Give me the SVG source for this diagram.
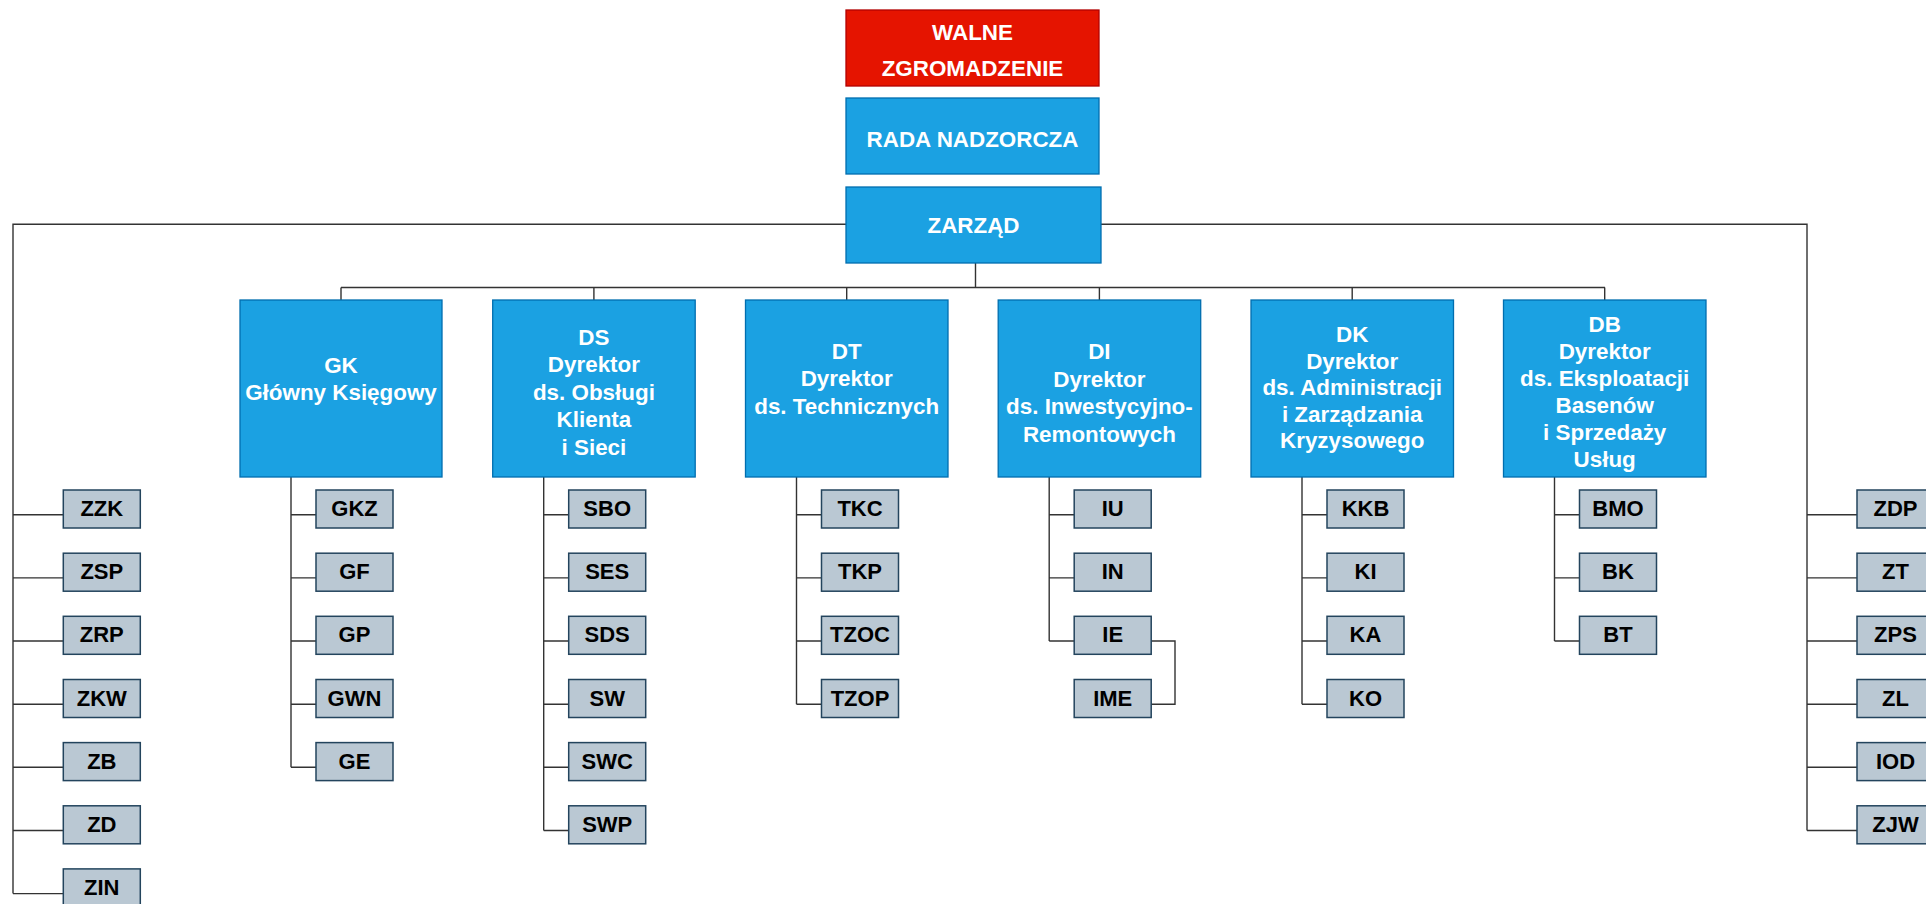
<svg xmlns="http://www.w3.org/2000/svg" width="1926" height="904" viewBox="0 0 1926 904">
<style>
.red{fill:#e51400;stroke:#b20000;stroke-width:1.3}
.blue{fill:#1ba1e2;stroke:#006eaf;stroke-width:1.3}
.sub{fill:#bac8d3;stroke:#23445d;stroke-width:1.5}
.wt{font-family:"Liberation Sans",Arial,sans-serif;font-weight:bold;font-size:22.4px;fill:#ffffff;text-anchor:middle}
.bt{font-family:"Liberation Sans",Arial,sans-serif;font-weight:bold;font-size:22px;fill:#000000;text-anchor:middle}
.ln{fill:none;stroke:#333333;stroke-width:1.4}
</style>
<rect width="1926" height="904" fill="#ffffff"/>
<g id="connectors" class="ln">
<path d="M846,224.3 H13 V893.6"/>
<path d="M13,514.7 H63.3 M13,577.9 H63.3 M13,641 H63.3 M13,704.2 H63.3 M13,767.3 H63.3 M13,830.5 H63.3 M13,893.6 H63.3"/>
<path d="M1101,224.3 H1807 V830.5"/>
<path d="M1807,514.7 H1857 M1807,577.9 H1857 M1807,641 H1857 M1807,704.2 H1857 M1807,767.3 H1857 M1807,830.5 H1857"/>
<path d="M975.5,263 V287.5 M341,287.5 H1605 M341,287.5 V300 M593.9,287.5 V300 M846.7,287.5 V300 M1099.4,287.5 V300 M1352.2,287.5 V300 M1604.7,287.5 V300"/>
<path d="M291,477 V767.3 M291,514.7 H316 M291,577.9 H316 M291,641 H316 M291,704.2 H316 M291,767.3 H316"/>
<path d="M543.7,477 V830.5 M543.7,514.7 H568.7 M543.7,577.9 H568.7 M543.7,641 H568.7 M543.7,704.2 H568.7 M543.7,767.3 H568.7 M543.7,830.5 H568.7"/>
<path d="M796.5,477 V704.2 M796.5,514.7 H821.5 M796.5,577.9 H821.5 M796.5,641 H821.5 M796.5,704.2 H821.5"/>
<path d="M1049.2,477 V641 M1049.2,514.7 H1074.2 M1049.2,577.9 H1074.2 M1049.2,641 H1074.2"/>
<path d="M1151.2,641 H1175 V704.2 H1151.2"/>
<path d="M1302,477 V704.2 M1302,514.7 H1327 M1302,577.9 H1327 M1302,641 H1327 M1302,704.2 H1327"/>
<path d="M1554.5,477 V641 M1554.5,514.7 H1579.5 M1554.5,577.9 H1579.5 M1554.5,641 H1579.5"/>
</g>
<g id="walne"><rect class="red" x="846" y="10" width="253" height="76"/><text class="wt" x="972.5" y="40">WALNE</text><text class="wt" x="972.5" y="75.7">ZGROMADZENIE</text></g>
<g id="rada"><rect class="blue" x="846" y="98" width="253" height="76"/><text class="wt" x="972.5" y="146.5">RADA NADZORCZA</text></g>
<g id="zarzad"><rect class="blue" x="846" y="187" width="255" height="76"/><text class="wt" x="973.5" y="233">ZARZĄD</text></g>
<g id="gk"><rect class="blue" x="240" y="300" width="202" height="177"/><text class="wt" x="341" y="372.7">GK</text><text class="wt" x="341" y="400">Główny Księgowy</text></g>
<g id="ds"><rect class="blue" x="492.7" y="300" width="202.5" height="177"/><text class="wt" x="593.9" y="344.5">DS</text><text class="wt" x="593.9" y="372">Dyrektor</text><text class="wt" x="593.9" y="399.5">ds. Obsługi</text><text class="wt" x="593.9" y="427">Klienta</text><text class="wt" x="593.9" y="454.5">i Sieci</text></g>
<g id="dt"><rect class="blue" x="745.5" y="300" width="202.5" height="177"/><text class="wt" x="846.7" y="358.5">DT</text><text class="wt" x="846.7" y="386">Dyrektor</text><text class="wt" x="846.7" y="413.5">ds. Technicznych</text></g>
<g id="di"><rect class="blue" x="998.2" y="300" width="202.5" height="177"/><text class="wt" x="1099.4" y="359">DI</text><text class="wt" x="1099.4" y="386.5">Dyrektor</text><text class="wt" x="1099.4" y="414">ds. Inwestycyjno-</text><text class="wt" x="1099.4" y="441.5">Remontowych</text></g>
<g id="dk"><rect class="blue" x="1251" y="300" width="202.5" height="177"/><text class="wt" x="1352.2" y="342">DK</text><text class="wt" x="1352.2" y="368.5">Dyrektor</text><text class="wt" x="1352.2" y="395">ds. Administracji</text><text class="wt" x="1352.2" y="421.5">i Zarządzania</text><text class="wt" x="1352.2" y="448">Kryzysowego</text></g>
<g id="db"><rect class="blue" x="1503.5" y="300" width="202.5" height="177"/><text class="wt" x="1604.7" y="331.7">DB</text><text class="wt" x="1604.7" y="358.8">Dyrektor</text><text class="wt" x="1604.7" y="385.9">ds. Eksploatacji</text><text class="wt" x="1604.7" y="413">Basenów</text><text class="wt" x="1604.7" y="440.1">i Sprzedaży</text><text class="wt" x="1604.7" y="467.2">Usług</text></g>
<g id="zzk"><rect class="sub" x="63.3" y="490" width="77" height="38"/><text class="bt" x="101.8" y="516">ZZK</text></g>
<g id="zsp"><rect class="sub" x="63.3" y="553.2" width="77" height="38"/><text class="bt" x="101.8" y="579.2">ZSP</text></g>
<g id="zrp"><rect class="sub" x="63.3" y="616.3" width="77" height="38"/><text class="bt" x="101.8" y="642.3">ZRP</text></g>
<g id="zkw"><rect class="sub" x="63.3" y="679.5" width="77" height="38"/><text class="bt" x="101.8" y="705.5">ZKW</text></g>
<g id="zb"><rect class="sub" x="63.3" y="742.6" width="77" height="38"/><text class="bt" x="101.8" y="768.6">ZB</text></g>
<g id="zd"><rect class="sub" x="63.3" y="805.8" width="77" height="38"/><text class="bt" x="101.8" y="831.8">ZD</text></g>
<g id="zin"><rect class="sub" x="63.3" y="868.9" width="77" height="38"/><text class="bt" x="101.8" y="894.9">ZIN</text></g>
<g id="zdp"><rect class="sub" x="1857" y="490" width="77" height="38"/><text class="bt" x="1895.5" y="516">ZDP</text></g>
<g id="zt"><rect class="sub" x="1857" y="553.2" width="77" height="38"/><text class="bt" x="1895.5" y="579.2">ZT</text></g>
<g id="zps"><rect class="sub" x="1857" y="616.3" width="77" height="38"/><text class="bt" x="1895.5" y="642.3">ZPS</text></g>
<g id="zl"><rect class="sub" x="1857" y="679.5" width="77" height="38"/><text class="bt" x="1895.5" y="705.5">ZL</text></g>
<g id="iod"><rect class="sub" x="1857" y="742.6" width="77" height="38"/><text class="bt" x="1895.5" y="768.6">IOD</text></g>
<g id="zjw"><rect class="sub" x="1857" y="805.8" width="77" height="38"/><text class="bt" x="1895.5" y="831.8">ZJW</text></g>
<g id="gkz"><rect class="sub" x="316" y="490" width="77" height="38"/><text class="bt" x="354.5" y="516">GKZ</text></g>
<g id="gf"><rect class="sub" x="316" y="553.2" width="77" height="38"/><text class="bt" x="354.5" y="579.2">GF</text></g>
<g id="gp"><rect class="sub" x="316" y="616.3" width="77" height="38"/><text class="bt" x="354.5" y="642.3">GP</text></g>
<g id="gwn"><rect class="sub" x="316" y="679.5" width="77" height="38"/><text class="bt" x="354.5" y="705.5">GWN</text></g>
<g id="ge"><rect class="sub" x="316" y="742.6" width="77" height="38"/><text class="bt" x="354.5" y="768.6">GE</text></g>
<g id="sbo"><rect class="sub" x="568.7" y="490" width="77" height="38"/><text class="bt" x="607.2" y="516">SBO</text></g>
<g id="ses"><rect class="sub" x="568.7" y="553.2" width="77" height="38"/><text class="bt" x="607.2" y="579.2">SES</text></g>
<g id="sds"><rect class="sub" x="568.7" y="616.3" width="77" height="38"/><text class="bt" x="607.2" y="642.3">SDS</text></g>
<g id="sw"><rect class="sub" x="568.7" y="679.5" width="77" height="38"/><text class="bt" x="607.2" y="705.5">SW</text></g>
<g id="swc"><rect class="sub" x="568.7" y="742.6" width="77" height="38"/><text class="bt" x="607.2" y="768.6">SWC</text></g>
<g id="swp"><rect class="sub" x="568.7" y="805.8" width="77" height="38"/><text class="bt" x="607.2" y="831.8">SWP</text></g>
<g id="tkc"><rect class="sub" x="821.5" y="490" width="77" height="38"/><text class="bt" x="860" y="516">TKC</text></g>
<g id="tkp"><rect class="sub" x="821.5" y="553.2" width="77" height="38"/><text class="bt" x="860" y="579.2">TKP</text></g>
<g id="tzoc"><rect class="sub" x="821.5" y="616.3" width="77" height="38"/><text class="bt" x="860" y="642.3">TZOC</text></g>
<g id="tzop"><rect class="sub" x="821.5" y="679.5" width="77" height="38"/><text class="bt" x="860" y="705.5">TZOP</text></g>
<g id="iu"><rect class="sub" x="1074.2" y="490" width="77" height="38"/><text class="bt" x="1112.7" y="516">IU</text></g>
<g id="in"><rect class="sub" x="1074.2" y="553.2" width="77" height="38"/><text class="bt" x="1112.7" y="579.2">IN</text></g>
<g id="ie"><rect class="sub" x="1074.2" y="616.3" width="77" height="38"/><text class="bt" x="1112.7" y="642.3">IE</text></g>
<g id="ime"><rect class="sub" x="1074.2" y="679.5" width="77" height="38"/><text class="bt" x="1112.7" y="705.5">IME</text></g>
<g id="kkb"><rect class="sub" x="1327" y="490" width="77" height="38"/><text class="bt" x="1365.5" y="516">KKB</text></g>
<g id="ki"><rect class="sub" x="1327" y="553.2" width="77" height="38"/><text class="bt" x="1365.5" y="579.2">KI</text></g>
<g id="ka"><rect class="sub" x="1327" y="616.3" width="77" height="38"/><text class="bt" x="1365.5" y="642.3">KA</text></g>
<g id="ko"><rect class="sub" x="1327" y="679.5" width="77" height="38"/><text class="bt" x="1365.5" y="705.5">KO</text></g>
<g id="bmo"><rect class="sub" x="1579.5" y="490" width="77" height="38"/><text class="bt" x="1618" y="516">BMO</text></g>
<g id="bk"><rect class="sub" x="1579.5" y="553.2" width="77" height="38"/><text class="bt" x="1618" y="579.2">BK</text></g>
<g id="bt"><rect class="sub" x="1579.5" y="616.3" width="77" height="38"/><text class="bt" x="1618" y="642.3">BT</text></g>
</svg>
